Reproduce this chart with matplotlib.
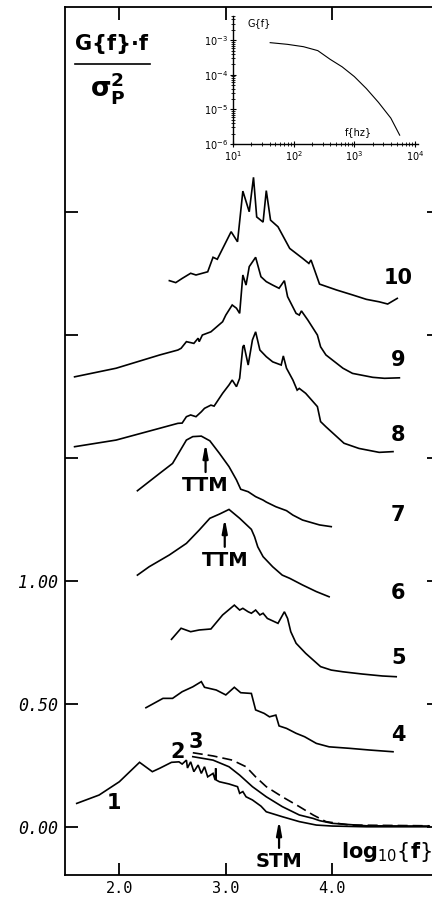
import matplotlib
matplotlib.use("Agg")
import matplotlib.pyplot as plt

# --- normalised premultiplied spectra, log10(f) vs G(f)*f/sigma_p^2 (stacked) ---
c1_logf = [1.60, 1.81, 2.00, 2.19, 2.31, 2.38, 2.49, 2.56, 2.59, 2.63, 2.64, 2.67, 2.70, 2.74,
           2.77, 2.80, 2.83, 2.88, 2.90, 2.905, 2.91, 2.94, 3.03, 3.11, 3.13, 3.16, 3.19, 3.25,
           3.33, 3.38, 3.53, 3.69, 3.85, 4.00, 4.32, 4.91]
c1_val = [0.096, 0.130, 0.184, 0.263, 0.225, 0.239, 0.263, 0.265, 0.256, 0.272, 0.240, 0.265,
          0.225, 0.252, 0.218, 0.245, 0.204, 0.218, 0.191, 0.239, 0.191, 0.184, 0.175, 0.164,
          0.137, 0.144, 0.123, 0.110, 0.085, 0.062, 0.042, 0.022, 0.008, 0.004, 0.001, 0.001]

c2_logf = [2.69, 2.88, 3.03, 3.13, 3.25, 3.38, 3.53, 3.69, 3.82, 3.88, 4.00, 4.32, 4.91]
c2_val = [0.286, 0.272, 0.245, 0.211, 0.164, 0.123, 0.083, 0.049, 0.035, 0.026, 0.015, 0.005, 0.004]

c3_logf = [2.69, 2.88, 3.06, 3.19, 3.28, 3.38, 3.53, 3.69, 3.82, 3.94, 4.16, 4.91]
c3_val = [0.302, 0.289, 0.272, 0.245, 0.204, 0.164, 0.123, 0.083, 0.049, 0.022, 0.008, 0.005]

c4_logf = [2.25, 2.41, 2.50, 2.59, 2.69, 2.77, 2.80, 2.91, 3.00, 3.08, 3.14, 3.24, 3.28, 3.36,
           3.41, 3.47, 3.50, 3.57, 3.66, 3.74, 3.85, 3.97, 4.16, 4.35, 4.57]
c4_val = [0.485, 0.523, 0.523, 0.550, 0.570, 0.591, 0.568, 0.557, 0.537, 0.568, 0.546, 0.543,
          0.476, 0.462, 0.448, 0.455, 0.411, 0.401, 0.381, 0.367, 0.340, 0.326, 0.320, 0.313, 0.306]

c5_logf = [2.49, 2.58, 2.67, 2.75, 2.86, 2.97, 3.08, 3.13, 3.16, 3.21, 3.24, 3.28, 3.32, 3.35,
           3.39, 3.49, 3.55, 3.58, 3.61, 3.66, 3.75, 3.82, 3.89, 3.99, 4.10, 4.28, 4.47, 4.60]
c5_val = [0.763, 0.808, 0.794, 0.801, 0.805, 0.862, 0.902, 0.882, 0.889, 0.875, 0.869, 0.882,
          0.862, 0.869, 0.848, 0.828, 0.875, 0.848, 0.794, 0.747, 0.706, 0.679, 0.652, 0.638,
          0.631, 0.622, 0.614, 0.611]

c6_logf = [2.17, 2.28, 2.47, 2.63, 2.75, 2.85, 2.94, 3.03, 3.13, 3.24, 3.27, 3.30, 3.35, 3.44,
           3.53, 3.60, 3.72, 3.85, 3.97]
c6_val = [1.024, 1.058, 1.106, 1.153, 1.207, 1.255, 1.272, 1.291, 1.255, 1.210, 1.180, 1.139,
          1.099, 1.058, 1.024, 1.011, 0.984, 0.957, 0.936]

c7_logf = [2.17, 2.38, 2.50, 2.63, 2.69, 2.77, 2.85, 2.94, 3.03, 3.10, 3.14, 3.21, 3.28, 3.35,
           3.38, 3.47, 3.57, 3.63, 3.72, 3.88, 3.99]
c7_val = [1.367, 1.438, 1.478, 1.573, 1.587, 1.589, 1.570, 1.519, 1.465, 1.411, 1.373, 1.363,
          1.343, 1.329, 1.321, 1.302, 1.286, 1.268, 1.248, 1.228, 1.221]

c8_logf = [1.58, 1.97, 2.38, 2.55, 2.59, 2.63, 2.67, 2.72, 2.77, 2.80, 2.86, 2.89, 2.97, 3.03,
           3.06, 3.10, 3.13, 3.16, 3.17, 3.21, 3.25, 3.28, 3.32, 3.38, 3.44, 3.52, 3.54, 3.57,
           3.63, 3.67, 3.69, 3.75, 3.86, 3.89, 3.94, 4.11, 4.25, 4.44, 4.57]
c8_val = [1.546, 1.573, 1.621, 1.641, 1.642, 1.668, 1.675, 1.668, 1.688, 1.702, 1.715, 1.711,
          1.763, 1.797, 1.817, 1.790, 1.824, 1.952, 1.959, 1.878, 1.980, 2.013, 1.939, 1.912,
          1.891, 1.878, 1.915, 1.865, 1.817, 1.776, 1.783, 1.763, 1.709, 1.648, 1.627, 1.560,
          1.539, 1.523, 1.526]

c9_logf = [1.58, 1.97, 2.38, 2.55, 2.58, 2.63, 2.70, 2.74, 2.75, 2.78, 2.86, 2.97, 3.00, 3.06,
           3.10, 3.13, 3.16, 3.19, 3.22, 3.28, 3.33, 3.38, 3.44, 3.50, 3.55, 3.58, 3.66, 3.69,
           3.71, 3.77, 3.86, 3.89, 3.94, 4.10, 4.19, 4.38, 4.49, 4.63]
c9_val = [1.830, 1.865, 1.919, 1.939, 1.946, 1.973, 1.966, 1.987, 1.973, 2.000, 2.013, 2.054,
          2.081, 2.122, 2.109, 2.088, 2.244, 2.203, 2.278, 2.316, 2.237, 2.217, 2.203, 2.190,
          2.221, 2.156, 2.088, 2.081, 2.098, 2.061, 2.000, 1.952, 1.919, 1.865, 1.844, 1.828,
          1.824, 1.826]

c10_logf = [2.47, 2.53, 2.59, 2.67, 2.72, 2.83, 2.88, 2.92, 3.05, 3.11, 3.16, 3.22, 3.26, 3.29,
            3.35, 3.38, 3.42, 3.49, 3.60, 3.72, 3.78, 3.80, 3.88, 4.04, 4.19, 4.32, 4.44, 4.52,
            4.61]
c10_val = [2.221, 2.213, 2.230, 2.251, 2.244, 2.257, 2.316, 2.308, 2.420, 2.379, 2.585, 2.501,
           2.641, 2.480, 2.459, 2.587, 2.467, 2.440, 2.352, 2.312, 2.291, 2.305, 2.207, 2.183,
           2.163, 2.145, 2.135, 2.126, 2.149]

curve_names = ["1", "2", "3", "4", "5", "6", "7", "8", "9", "10"]

# --- inset: raw spectrum ---
inset_f = [41, 79, 145, 250, 400, 630, 1000, 1580, 2500, 4000, 5600]
inset_G = [8.5e-4, 7.6e-4, 6.5e-4, 5.0e-4, 2.8e-4, 1.7e-4, 8.9e-5, 4.0e-5, 1.6e-5, 5.6e-6, 1.8e-6]

# mode markers: (label, log10 f, arrow tip, arrow tail)
markers = [("TTM", 2.81, 1.561, 1.443), ("TTM", 2.99, 1.256, 1.139), ("STM", 3.50, 0.028, -0.085)]

x_ticks = [2.0, 3.0, 4.0]
x_tick_labels = ["2.0", "3.0", "4.0"]
y_ticks = [0.0, 0.5, 1.0, 1.5, 2.0, 2.5]
y_tick_labels = ["0.00", "0.50", "1.00", "", "", ""]

W, H = 432, 900
fig = plt.figure(figsize=(W / 100, H / 100), dpi=100)
ax = fig.add_axes([65 / W, 25 / H, 373.8 / W, 868.4 / H])
ax.set_xlim(1.49, 5.0)
ax.set_ylim(-0.195, 3.335)

lw = 1.2
solid = [(c1_logf, c1_val), (c2_logf, c2_val), (c4_logf, c4_val), (c5_logf, c5_val),
         (c6_logf, c6_val), (c7_logf, c7_val), (c8_logf, c8_val), (c9_logf, c9_val),
         (c10_logf, c10_val)]
for xs, ys in solid:
    ax.plot(xs, ys, color="black", lw=lw, solid_joinstyle="miter")
ax.plot(c3_logf, c3_val, color="black", lw=lw, linestyle=(0, (6, 3)))

for sp in ax.spines.values():
    sp.set_linewidth(1.3)

ax.set_xticks(x_ticks)
ax.set_xticklabels(x_tick_labels, family="DejaVu Sans Mono", fontsize=11)
ax.set_yticks(y_ticks)
ax.set_yticklabels(y_tick_labels, family="DejaVu Sans Mono", style="italic", fontsize=12)
ax.tick_params(axis="both", direction="in", length=9, width=1.3,
               top=True, right=True)
ax.tick_params(axis="x", pad=4)
ax.tick_params(axis="y", pad=5)

# curve numbers
label_font = dict(fontsize=15, fontweight="bold", ha="center", va="center")
right_labels = {"4": 0.374, "5": 0.687, "6": 0.951, "7": 1.268,
                "8": 1.593, "9": 1.898, "10": 2.23}
for name in curve_names[3:]:
    ax.text(4.62, right_labels[name], name, **label_font)
ax.text(1.95, 0.098, "1", **label_font)
ax.text(2.545, 0.305, "2", **label_font)
ax.text(2.715, 0.346, "3", **label_font)

# mode arrows
for text, xm, tip, tail in markers:
    ax.annotate("", xy=(xm, tip), xytext=(xm, tail),
                arrowprops=dict(arrowstyle="-|>,head_width=0.15,head_length=0.8",
                                color="black", lw=1.6, shrinkA=0, shrinkB=0))
    ax.text(xm, tail - 0.055, text, fontsize=14, fontweight="bold",
            ha="center", va="center")

# axis titles
fig.text(112 / W, 1 - 44 / H, "G{f}·f", fontsize=15, fontweight="bold",
         ha="center", va="center")
fig.add_artist(plt.Line2D([75 / W, 150 / W], [1 - 64 / H, 1 - 64 / H],
                          color="black", lw=1.2))
fig.text(108 / W, 1 - 88 / H, r"$\mathbf{\sigma}_{\mathbf{P}}^{\mathbf{2}}$",
         fontsize=19, ha="center", va="center")
fig.text(386 / W, 1 - 852 / H, r"$\mathbf{log}_{\mathrm{10}}\{\mathbf{f}\}$",
         fontsize=15, ha="center", va="center")

# inset
ins = fig.add_axes([233 / W, 1 - 144 / H, 185 / W, 128 / H])
ins.set_facecolor("none")
ins.set_xscale("log")
ins.set_yscale("log")
ins.set_xlim(10, 10 ** 4.05)
ins.set_ylim(1e-6, 10 ** -2.3)
ins.plot(inset_f, inset_G, color="black", lw=0.8)
ins.spines["top"].set_visible(False)
ins.spines["right"].set_visible(False)
for sp in ("left", "bottom"):
    ins.spines[sp].set_linewidth(1.0)
ins.set_xticks([10, 100, 1000, 10000])
ins.set_yticks([1e-6, 1e-5, 1e-4, 1e-3])
ins.tick_params(which="major", direction="inout", length=5, width=0.8, labelsize=7, pad=1)
ins.tick_params(which="minor", direction="inout", length=3, width=0.6)
ins.text(0.076, 0.945, "G{f}", transform=ins.transAxes, fontsize=7,
         ha="left", va="center")
ins.text(0.68, 0.09, "f{hz}", transform=ins.transAxes, fontsize=7,
         ha="center", va="center")

fig.savefig("out.png", dpi=100)
